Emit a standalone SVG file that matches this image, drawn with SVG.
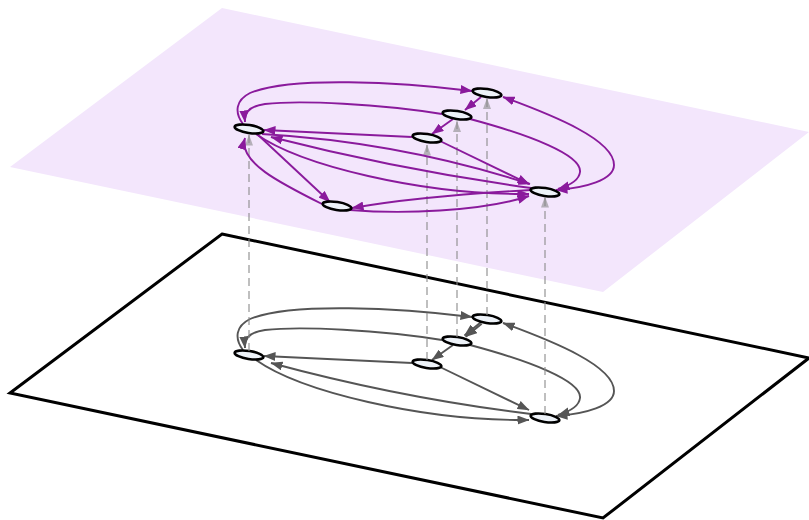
<svg xmlns="http://www.w3.org/2000/svg" width="809" height="520" viewBox="0 0 809 520">
<defs>
<style>
.ep{fill:none;stroke:#8a1a9c;stroke-width:1.9;marker-end:url(#ap)}
.eg{fill:none;stroke:#555;stroke-width:1.9;marker-end:url(#ag)}
.dash{fill:none;stroke:#8a8a8a;stroke-opacity:0.55;stroke-width:2;stroke-dasharray:8,5;marker-end:url(#ad)}
.node{fill:#edf2f8;stroke:#000;stroke-width:2.6}
</style>
<marker id="ap" markerUnits="userSpaceOnUse" viewBox="0 0 12 9" markerWidth="12" markerHeight="9" refX="11.5" refY="4.5" orient="auto-start-reverse"><path d="M0,0 L12,4.5 L0,9 z" fill="#8a1a9c"/></marker>
<marker id="ag" markerUnits="userSpaceOnUse" viewBox="0 0 12 9" markerWidth="12" markerHeight="9" refX="11.5" refY="4.5" orient="auto-start-reverse"><path d="M0,0 L12,4.5 L0,9 z" fill="#555"/></marker>
<marker id="ad" markerUnits="userSpaceOnUse" viewBox="0 0 11 8" markerWidth="11" markerHeight="8" refX="10.5" refY="4" orient="auto"><path d="M0,0 L11,4 L0,8 z" fill="#8a8a8a" fill-opacity="0.6"/></marker>
</defs>

<g id="plane-bottom">
<polygon points="222,234 809,358 603,518 10,393" fill="#fff" stroke="#000" stroke-width="3" stroke-linejoin="miter"/>
</g>

<g id="connectors-bottom" transform="translate(0,226)">
<path class="eg" d="M 243,124 C 234,112 236,100 250,93 C 290,76 400,82 472,91"/>
<path class="eg" d="M 442,114 C 380,104 300,100 265,104 C 250,106 244,112 245,122"/>
<path class="eg" d="M 480.5,96.5 L 464.5,109.5"/>
<path class="eg" d="M 481.7,97.8 L 465.7,110.8"/>
<path class="eg" d="M 453,119 L 432,134"/>
<path class="eg" d="M 412,137 L 264,130"/>
<path class="eg" d="M 531,188 Q 400,172 271,137"/>
<path class="eg" d="M 256,134 C 300,165 420,195 529,194"/>
<path class="eg" d="M 440,141 L 529,184"/>
<path class="eg" style="marker-start:url(#ag)" d="M 503,97 C 555,116 614,140 614,165 C 614,180 585,188 556,190"/>
<path class="eg" d="M 470,119 C 530,135 582,155 580,172 C 579,181 568,186 558,189"/>
</g>

<g id="nodes-bottom">
<g id="A2"><ellipse class="node" cx="249" cy="355" rx="14.5" ry="4" transform="rotate(9 249 355)"/></g>
<g id="B2"><ellipse class="node" cx="487" cy="319" rx="14.5" ry="4" transform="rotate(9 487 319)"/></g>
<g id="C2"><ellipse class="node" cx="457" cy="341" rx="14.5" ry="4" transform="rotate(9 457 341)"/></g>
<g id="D2"><ellipse class="node" cx="427" cy="364" rx="14.5" ry="4" transform="rotate(9 427 364)"/></g>
<g id="E2"><ellipse class="node" cx="545" cy="418" rx="14.5" ry="4" transform="rotate(9 545 418)"/></g>
</g>

<g id="plane-top">
<polygon points="222,8 809,132 603,292 10,167" fill="#f3e6fc"/>
</g>

<g id="connectors-interlayer">
<path class="dash" d="M 249,351 L 249,135"/>
<path class="dash" d="M 487,315 L 487,98.5"/>
<path class="dash" d="M 457,337 L 457,121.5"/>
<path class="dash" d="M 427,360 L 427,145"/>
<path class="dash" d="M 545,414 L 545,197"/>
</g>

<g id="connectors-top">
<path class="ep" d="M 243,124 C 234,112 236,100 250,93 C 290,76 400,82 472,91"/>
<path class="ep" d="M 442,114 C 380,104 300,100 265,104 C 250,106 244,112 245,122"/>
<path class="ep" d="M 481,97 L 465,110"/>
<path class="ep" d="M 453,119 L 432,134"/>
<path class="ep" d="M 412,137 L 264,130"/>
<path class="ep" d="M 262,134 Q 400,142 530,184"/>
<path class="ep" d="M 531,188 Q 400,170 271,137"/>
<path class="ep" d="M 256,134 C 300,165 420,195 529,194"/>
<path class="ep" d="M 440,141 L 529,184"/>
<path class="ep" d="M 256,133 L 330,202"/>
<path class="ep" d="M 322,204 C 280,183 238,162 245,138"/>
<path class="ep" d="M 531,190 Q 420,196 352,208"/>
<path class="ep" d="M 350,210 C 400,214 480,212 529,196"/>
<path class="ep" style="marker-start:url(#ap)" d="M 503,97 C 555,116 614,140 614,165 C 614,180 585,188 556,190"/>
<path class="ep" d="M 470,119 C 530,135 582,155 580,172 C 579,181 568,186 558,189"/>
</g>

<g id="nodes-top">
<g id="A"><ellipse class="node" cx="249" cy="129" rx="14.5" ry="4" transform="rotate(9 249 129)"/></g>
<g id="B"><ellipse class="node" cx="487" cy="93" rx="14.5" ry="4" transform="rotate(9 487 93)"/></g>
<g id="C"><ellipse class="node" cx="457" cy="115" rx="14.5" ry="4" transform="rotate(9 457 115)"/></g>
<g id="D"><ellipse class="node" cx="427" cy="138" rx="14.5" ry="4" transform="rotate(9 427 138)"/></g>
<g id="E"><ellipse class="node" cx="545" cy="192" rx="14.5" ry="4" transform="rotate(9 545 192)"/></g>
<g id="F"><ellipse class="node" cx="337" cy="206" rx="14.5" ry="4" transform="rotate(9 337 206)"/></g>
</g>
</svg>
